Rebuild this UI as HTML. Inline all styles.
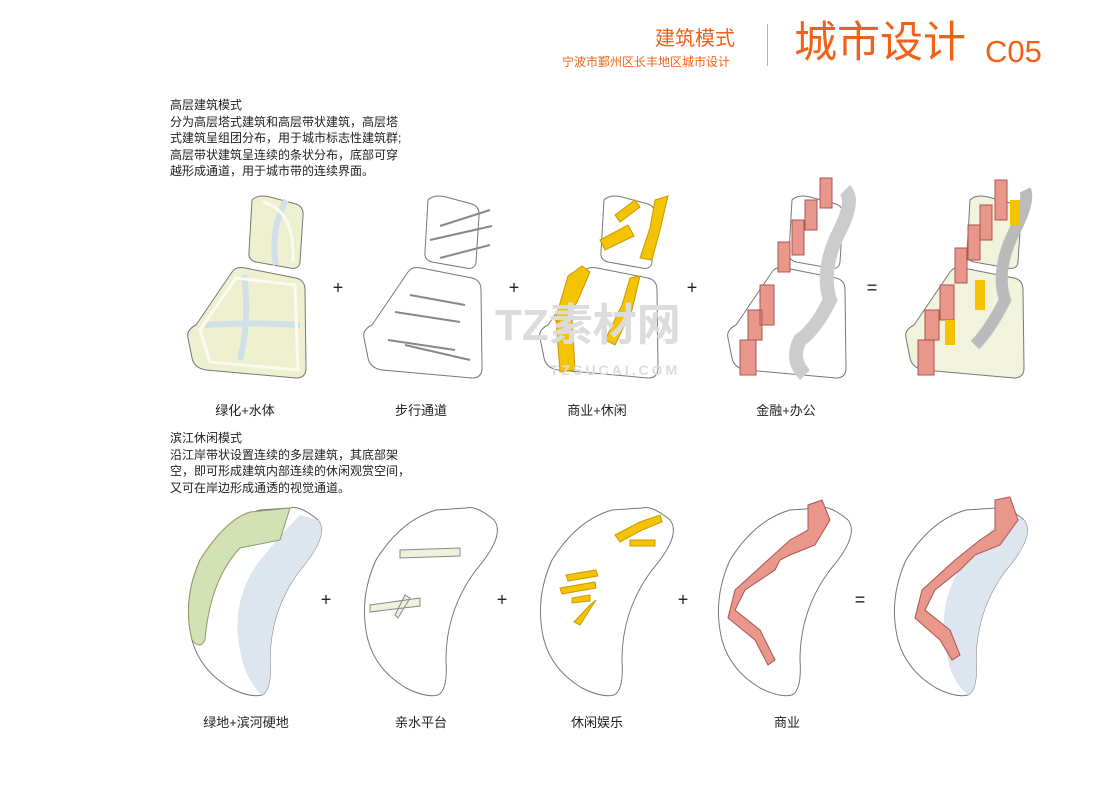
<!DOCTYPE html>
<html><head><meta charset="utf-8"><style>
body{margin:0;background:#fff;}
.w{position:relative;width:1100px;height:788px;overflow:hidden;font-family:"Liberation Sans","Noto Sans CJK SC",sans-serif;}
.t{position:absolute;white-space:nowrap;}
.or{color:#f2601a;}
.txt{position:absolute;left:170px;font-size:12px;line-height:16.5px;color:#222;}
.lb{position:absolute;font-size:13px;color:#222;transform:translateX(-50%);white-space:nowrap;}
.op{position:absolute;font-size:18px;color:#222;transform:translate(-50%,-50%);}
</style></head><body><div class="w">
<div class="t or" style="left:655px;top:22px;font-size:20px;">建筑模式</div>
<div class="t or" style="left:562px;top:53px;font-size:12px;">宁波市鄞州区长丰地区城市设计</div>
<div style="position:absolute;left:767px;top:24px;width:1px;height:42px;background:#f2a070"></div>
<div class="t or" style="left:794px;top:18px;font-size:43px;line-height:50px;">城市设计</div>
<div class="t or" style="left:985px;top:34px;font-size:31px;">C05</div>

<div class="txt" style="top:97px">高层建筑模式<br>分为高层塔式建筑和高层带状建筑，高层塔<br>式建筑呈组团分布，用于城市标志性建筑群;<br>高层带状建筑呈连续的条状分布，底部可穿<br>越形成通道，用于城市带的连续界面。</div>
<div class="txt" style="top:430px">滨江休闲模式<br>沿江岸带状设置连续的多层建筑，其底部架<br>空，即可形成建筑内部连续的休闲观赏空间，<br>又可在岸边形成通透的视觉通道。</div>

<svg width="1100" height="788" style="position:absolute;left:0;top:0">
<defs>
<g id="p1">
<path d="M252,200 Q258,194 270,197 L296,204 Q304,207 303,216 L300,262 Q299,270 290,268 L256,262 Q248,260 249,252 Z" stroke="#777" stroke-width="1"/>
<path d="M196,325 L232,272 Q236,266 245,268 L296,278 Q305,280 305,290 L306,368 Q306,378 296,378 L206,370 Q194,368 192,358 L188,338 Q186,330 196,325 Z" stroke="#777" stroke-width="1"/>
</g>
<g id="p2">
<path d="M290,508 Q300,505 318,520 Q330,535 300,570 Q270,610 270,660 Q272,690 262,695 Q250,698 230,688 Q200,670 192,640 Q182,600 200,560 Q225,520 260,510 Z" stroke="#777" stroke-width="1"/>
</g>
</defs>
<use href="#p1" fill="#eef1cf"/>
<path d="M286,200 Q270,230 276,265 M244,275 Q250,320 240,360 M205,325 Q250,322 300,325" stroke="#cfe0ea" stroke-width="6" fill="none"/>
<path d="M263,202 Q295,210 293,262 M200,330 L236,278 L295,285 L298,370 L210,362 Z" stroke="#fbfbf0" stroke-width="3" fill="none"/>
<use href="#p1" fill="#fff" transform="translate(176,0)"/>
<path d="M440,226 L490,210 M430,240 L492,226 M440,258 L490,245 M410,295 L465,305 M395,312 L460,322 M388,340 L455,350 M405,345 L470,360" stroke="#888" stroke-width="2"/>
<use href="#p1" fill="#fff" transform="translate(352,0)"/>
<path d="M615,215 L635,200 L640,207 L620,222 Z M600,240 L628,225 L634,236 L605,250 Z M655,200 L668,196 L660,230 L652,260 L640,258 L650,228 Z M568,276 L582,266 L590,272 L578,300 L565,325 L555,320 Z M556,320 L572,318 L575,370 L560,372 Z M630,278 L640,276 L632,310 L615,345 L605,340 L622,305 Z" fill="#f5c400" stroke="#c99a00"/>
<use href="#p1" fill="#fff" transform="translate(540,0)"/>
<path d="M845,190 Q855,200 840,230 Q820,270 830,300 Q815,330 800,340 Q790,360 805,375" stroke="#ccc" stroke-width="14" fill="none"/>
<path d="M820,178 h12 v30 h-12 Z M805,200 h12 v30 h-12 Z M792,220 h12 v35 h-12 Z M778,242 h12 v30 h-12 Z M760,285 h14 v40 h-14 Z M748,310 h14 v30 h-14 Z M740,340 h16 v35 h-16 Z" fill="#e8978a" stroke="#a55"/>
<use href="#p1" fill="#f1f3dc" transform="translate(718,0)"/>
<path d="M1025,190 Q1030,200 1015,230 Q995,270 1005,300 Q990,330 975,345" stroke="#bbb" stroke-width="12" fill="none"/>
<path d="M995,180 h12 v40 h-12 Z M980,205 h12 v35 h-12 Z M968,225 h12 v35 h-12 Z M955,248 h12 v35 h-12 Z M940,285 h14 v35 h-14 Z M925,310 h14 v30 h-14 Z M918,340 h16 v35 h-16 Z" fill="#e8978a" stroke="#a55"/>
<path d="M1010,200 h10 v25 h-10 Z M975,280 h10 v30 h-10 Z M945,320 h10 v25 h-10Z" fill="#f5c400"/>
<use href="#p2" fill="#fff"/>
<path d="M318,520 Q330,535 300,570 Q270,610 270,660 Q272,690 262,695 Q245,680 240,650 Q230,600 260,560 Q285,530 300,515 Z" fill="#dde5ef"/>
<path d="M250,512 L290,508 L280,540 L240,548 Q210,580 205,640 Q200,650 192,640 Q182,600 200,560 Q225,520 250,512 Z" fill="#d3e1b4" stroke="#8a9a6a"/>
<use href="#p2" fill="#fff" transform="translate(176,0)"/>
<path d="M400,550 L460,548 L460,556 L400,558 Z M370,605 L420,598 L420,606 L370,612 Z M395,615 L405,595 L410,598 L398,618Z" fill="#eef2dc" stroke="#888"/>
<use href="#p2" fill="#fff" transform="translate(352,0)"/>
<path d="M615,535 L640,522 L660,515 L662,522 L642,530 L620,542 Z M630,540 L655,540 L655,546 L630,546Z M566,575 L596,570 L598,576 L568,581Z M560,588 L595,582 L596,588 L562,594Z M572,598 L590,595 L590,601 L572,603Z M590,605 L596,600 L580,625 L574,622Z" fill="#f5c400" stroke="#c99a00"/>
<use href="#p2" fill="#fff" transform="translate(530,0)"/>
<path d="M808,505 L822,500 L830,520 L815,545 L790,555 L780,560 L775,570 L745,590 L735,610 L760,630 L775,660 L768,665 L755,640 L728,618 L735,590 L768,560 L790,540 L808,530 Z" fill="#e8978a" stroke="#a55"/>
<use href="#p2" fill="#fff" transform="translate(706,0)"/>
<path d="M1024,520 Q1036,535 1006,570 Q976,610 976,660 Q978,690 968,695 Q950,680 946,650 Q936,600 966,560 Q990,530 1006,515 Z" fill="#dde5ef"/>
<path d="M995,500 L1010,497 L1018,520 L1000,545 L975,555 L960,570 L935,590 L925,610 L950,630 L960,655 L952,660 L940,640 L915,618 L922,590 L955,560 L980,540 L995,530 Z" fill="#e8978a" stroke="#a55"/>
<text x="495" y="340" font-size="44" fill="#dcdcdc" font-family="Liberation Sans,Noto Sans CJK SC,sans-serif" font-weight="bold">TZ素材网</text>
<text x="550" y="375" font-size="14" fill="#dcdcdc" font-family="Liberation Sans,sans-serif" font-weight="bold" letter-spacing="3">TZSUCAI.COM</text>
</svg>

<div class="op" style="left:338px;top:288px">+</div>
<div class="op" style="left:514px;top:288px">+</div>
<div class="op" style="left:692px;top:288px">+</div>
<div class="op" style="left:872px;top:288px">=</div>
<div class="op" style="left:326px;top:600px">+</div>
<div class="op" style="left:502px;top:600px">+</div>
<div class="op" style="left:683px;top:600px">+</div>
<div class="op" style="left:860px;top:600px">=</div>

<div class="lb" style="left:245px;top:400px">绿化+水体</div>
<div class="lb" style="left:421px;top:400px">步行通道</div>
<div class="lb" style="left:597px;top:400px">商业+休闲</div>
<div class="lb" style="left:786px;top:400px">金融+办公</div>
<div class="lb" style="left:246px;top:712px">绿地+滨河硬地</div>
<div class="lb" style="left:421px;top:712px">亲水平台</div>
<div class="lb" style="left:597px;top:712px">休闲娱乐</div>
<div class="lb" style="left:787px;top:712px">商业</div>
</div></body></html>
